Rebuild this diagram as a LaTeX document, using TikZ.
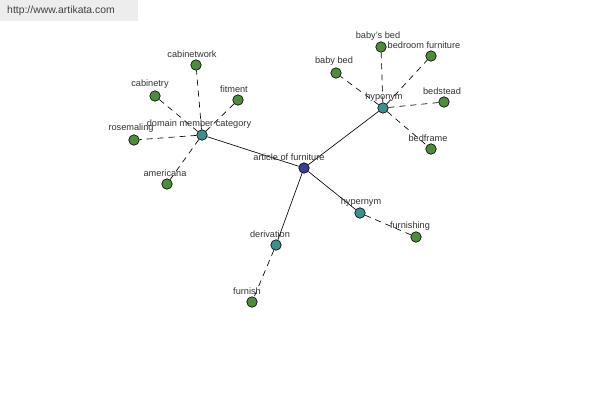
\documentclass[tikz,border=0pt]{standalone}
\usepackage{fontspec}
\setmainfont{Liberation Sans}
\begin{document}
\begin{tikzpicture}[x=1pt,y=-1pt,
  dot/.style={circle,draw=black,line width=0.6pt,minimum size=10.5pt,inner sep=0pt},
  leaf/.style={dot,fill=leafgreen},
  rel/.style={dot,fill=relteal},
  hub/.style={dot,fill=hubnavy},
  lbl/.style={font=\fontsize{9.2}{11}\selectfont,text=black!80,inner sep=0pt},
  solidedge/.style={line width=0.65pt,black},
  dashedge/.style={line width=0.65pt,black,dash pattern=on 6pt off 5pt}]
\definecolor{leafgreen}{HTML}{4E8B3E}
\definecolor{relteal}{HTML}{3F8E8E}
\definecolor{hubnavy}{HTML}{3A3F90}
\useasboundingbox (0,0) rectangle (600,400);
\fill[white] (0,0) rectangle (600,400);
\fill[black!7] (0,0) rectangle (138,21);
\node[font=\fontsize{10.4}{12}\selectfont,text=black!75,inner sep=0pt] (wm) at (61,11) {http://www.artikata.com};
% edges
\coordinate (cart) at (304,168);
\coordinate (cdom) at (202,135);
\coordinate (chypo) at (383,108);
\coordinate (chyper) at (360,213);
\coordinate (cder) at (276,245);
% nodes
\node[hub] (art) at (cart) {};
\node[rel] (dom) at (cdom) {};
\node[rel] (hypo) at (chypo) {};
\node[rel] (hyper) at (chyper) {};
\node[rel] (der) at (cder) {};
\node[leaf] (cw) at (196,65) {};
\node[leaf] (cy) at (155,96) {};
\node[leaf] (fit) at (238,100) {};
\node[leaf] (ros) at (134,140) {};
\node[leaf] (am) at (167,184) {};
\node[leaf] (bsb) at (381,47) {};
\node[leaf] (bf) at (431,56) {};
\node[leaf] (bb) at (336,73) {};
\node[leaf] (bs) at (444,102) {};
\node[leaf] (bfr) at (431,149) {};
\node[leaf] (fur) at (416,237) {};
\node[leaf] (fsh) at (252,302) {};
\draw[solidedge] (art) -- (dom);
\draw[solidedge] (art) -- (hypo);
\draw[solidedge] (art) -- (hyper);
\draw[solidedge] (art) -- (der);
\draw[dashedge] (dom) -- (cw);
\draw[dashedge] (dom) -- (cy);
\draw[dashedge] (dom) -- (fit);
\draw[dashedge] (dom) -- (ros);
\draw[dashedge] (dom) -- (am);
\draw[dashedge] (hypo) -- (bsb);
\draw[dashedge] (hypo) -- (bf);
\draw[dashedge] (hypo) -- (bb);
\draw[dashedge] (hypo) -- (bs);
\draw[dashedge] (hypo) -- (bfr);
\draw[dashedge] (hyper) -- (fur);
\draw[dashedge] (der) -- (fsh);
% labels
\node[lbl] (l-art) at (289,157) {article of furniture};
\node[lbl] (l-dom) at (199,124) {domain member category};
\node[lbl] (l-hypo) at (384,97) {hyponym};
\node[lbl] (l-hyper) at (361,202) {hypernym};
\node[lbl] (l-der) at (270,234) {derivation};
\node[lbl] (l-cw) at (192,54) {cabinetwork};
\node[lbl] (l-cy) at (150,84) {cabinetry};
\node[lbl] (l-fit) at (234,89) {fitment};
\node[lbl] (l-ros) at (131,128) {rosemaling};
\node[lbl] (l-am) at (165,173) {americana};
\node[lbl] (l-bsb) at (378,36) {baby's bed};
\node[lbl] (l-bf) at (424,45) {bedroom furniture};
\node[lbl] (l-bb) at (334,61) {baby bed};
\node[lbl] (l-bs) at (442,91) {bedstead};
\node[lbl] (l-bfr) at (428,138) {bedframe};
\node[lbl] (l-fur) at (410,226) {furnishing};
\node[lbl] (l-fsh) at (247,291) {furnish};
\end{tikzpicture}
\end{document}
